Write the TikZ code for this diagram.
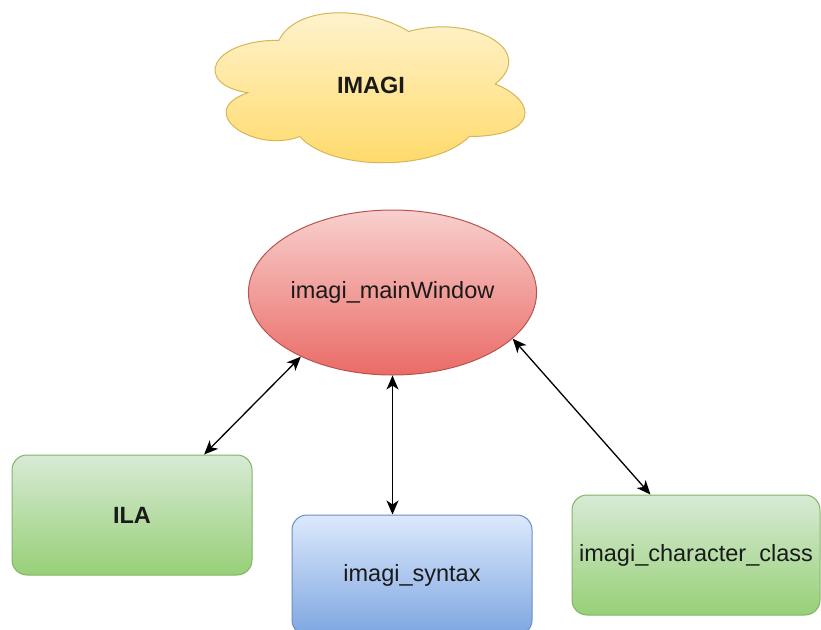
\documentclass[tikz,border=0pt]{standalone}
\usepackage{fontspec}
\setmainfont{Liberation Sans}
\usetikzlibrary{shapes.geometric,arrows.meta}
\definecolor{cloudtop}{HTML}{FFF4D2}
\definecolor{cloudbot}{HTML}{FFD966}
\definecolor{cloudline}{HTML}{D6B656}
\definecolor{redtop}{HTML}{F8D0CE}
\definecolor{redbot}{HTML}{EA6B66}
\definecolor{redline}{HTML}{B85450}
\definecolor{greentop}{HTML}{D8EAD6}
\definecolor{greenbot}{HTML}{97D077}
\definecolor{greenline}{HTML}{82B366}
\definecolor{bluetop}{HTML}{DCE9FC}
\definecolor{bluebot}{HTML}{7EA6E0}
\definecolor{blueline}{HTML}{6C8EBF}
\definecolor{txt}{HTML}{1A1A1A}
\tikzset{
  lbl/.style={text=txt, font=\fontsize{23.5}{28}\selectfont},
  boxnode/.style={lbl, rectangle, rounded corners=15pt, minimum width=240pt, minimum height=120pt, inner sep=0pt, line width=1pt},
  greenbox/.style={boxnode, draw=greenline, top color=greentop, bottom color=greenbot},
  bluebox/.style={boxnode, draw=blueline, top color=bluetop, bottom color=bluebot},
  link/.style={line width=1.3pt, black, {Stealth[length=14pt,width=12pt,inset=4pt]}-{Stealth[length=14pt,width=12pt,inset=4pt]}}
}
\begin{document}
\begin{tikzpicture}[x=1pt,y=-1pt]
\useasboundingbox (0,0) rectangle (821,629);
% cloud
\def\cx{192.5}\def\cy{-3.5}\def\cw{346}\def\ch{175}
\draw[draw=cloudline, line width=1pt, top color=cloudtop, bottom color=cloudbot]
  ({\cx+0.25*\cw},{\cy+0.25*\ch})
  .. controls ({\cx+0.05*\cw},{\cy+0.25*\ch}) and ({\cx+0*\cw},{\cy+0.5*\ch}) .. ({\cx+0.16*\cw},{\cy+0.55*\ch})
  .. controls ({\cx+0*\cw},{\cy+0.66*\ch}) and ({\cx+0.18*\cw},{\cy+0.9*\ch}) .. ({\cx+0.31*\cw},{\cy+0.8*\ch})
  .. controls ({\cx+0.4*\cw},{\cy+1*\ch}) and ({\cx+0.7*\cw},{\cy+1*\ch}) .. ({\cx+0.8*\cw},{\cy+0.8*\ch})
  .. controls ({\cx+1*\cw},{\cy+0.8*\ch}) and ({\cx+1*\cw},{\cy+0.6*\ch}) .. ({\cx+0.875*\cw},{\cy+0.5*\ch})
  .. controls ({\cx+1*\cw},{\cy+0.3*\ch}) and ({\cx+0.8*\cw},{\cy+0.1*\ch}) .. ({\cx+0.625*\cw},{\cy+0.2*\ch})
  .. controls ({\cx+0.5*\cw},{\cy+0.05*\ch}) and ({\cx+0.3*\cw},{\cy+0.05*\ch}) .. cycle;
\node[lbl, font=\fontsize{23.5}{28}\selectfont\bfseries] (imagi) at (371,85) {IMAGI};
% main window
\node[lbl, ellipse, draw=redline, line width=1pt, top color=redtop, bottom color=redbot,
      minimum width=281pt, minimum height=165pt, inner sep=0pt] (main) at (392.5,292.5) {imagi\_mainWindow};
% boxes
\node[greenbox, font=\fontsize{23.5}{28}\selectfont\bfseries] (ila) at (132,515) {ILA};
\node[bluebox] (syntax) at (412,575) {imagi\_syntax};
\node[greenbox, minimum width=248pt] (charc) at (696,555) {imagi\_character\_class};
% connectors
\draw[link] (main.215) -- (ila.40);
\draw[link] (main.south) -- (main.south |- syntax.north);
\draw[link] (main.339) -- (charc.127);
\end{tikzpicture}
\end{document}
